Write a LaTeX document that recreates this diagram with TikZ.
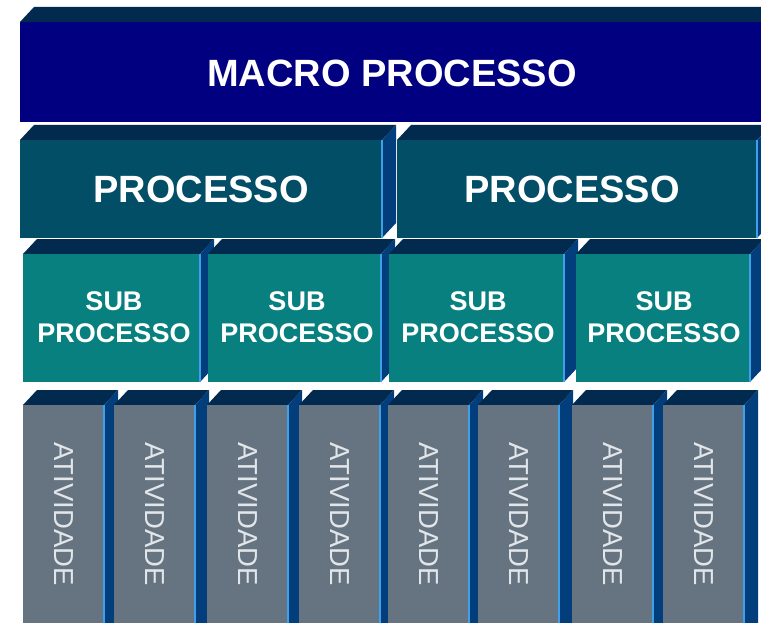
\documentclass[tikz,border=0pt]{standalone}
\usepackage{fontspec}
\setmainfont{Liberation Sans}
\definecolor{macroc}{HTML}{000080}
\definecolor{procc}{HTML}{024E66}
\definecolor{subc}{HTML}{088080}
\definecolor{ativc}{HTML}{657480}
\definecolor{topc}{HTML}{02294E}
\definecolor{sidec}{HTML}{033E7C}
\definecolor{edgec}{HTML}{3DA0E8}
\definecolor{ativtxt}{HTML}{E2E6EA}
\newcommand\mycuboid[5]{%
  \fill[topc] (#1,#2) -- ++(14,-15) -- ++(#3,0) -- ++(-14,15) -- cycle;
  \fill[sidec] (#1+#3,#2) -- ++(14,-15) -- ++(0,#4) -- ++(-14,15) -- cycle;
  \fill[#5] (#1,#2) rectangle ++(#3,#4);
  \draw[edgec,line width=1.6pt] (#1+#3,#2) -- ++(0,#4);
}
\tikzset{
  bigtxt/.style={text=white,font=\fontsize{38}{40}\selectfont\bfseries,inner sep=0pt},
  subtxt/.style={text=white,font=\fontsize{27}{32}\selectfont\bfseries,align=center,inner sep=0pt},
  ativtext/.style={text=ativtxt,font=\fontsize{27.5}{30}\selectfont,rotate=-90,inner sep=0pt}
}
\begin{document}
\begin{tikzpicture}[x=1pt,y=-1pt]
\useasboundingbox (0,0) rectangle (761,623);
\fill[white] (0,0) rectangle (761,623);
\clip (0,0) rectangle (761,623);
% macro
\mycuboid{20}{22}{780}{100}{macroc}
\node[bigtxt] (macro) at (392,73) {MACRO PROCESSO};
% processos
\mycuboid{20}{140}{362}{98}{procc}
\mycuboid{397}{140}{360}{98}{procc}
\node[bigtxt] (p1) at (201,189) {PROCESSO};
\node[bigtxt] (p2) at (572,189) {PROCESSO};
% sub processos
\mycuboid{23}{254}{177}{128}{subc}
\mycuboid{208}{254}{173}{128}{subc}
\mycuboid{389}{254}{175}{128}{subc}
\mycuboid{576}{254}{174}{128}{subc}
\node[subtxt] (s1) at (114,317) {SUB\\PROCESSO};
\node[subtxt] (s2) at (297,317) {SUB\\PROCESSO};
\node[subtxt] (s3) at (478,317) {SUB\\PROCESSO};
\node[subtxt] (s4) at (664,317) {SUB\\PROCESSO};
% atividades
\foreach \xx/\nm in {23/a1,114/a2,207/a3,299/a4,388/a5,478/a6,572/a7,663/a8}{
  \mycuboid{\xx}{405}{81}{240}{ativc}
  \node[ativtext] (\nm) at (\xx+41,514) {ATIVIDADE};
}
\end{tikzpicture}
\end{document}
